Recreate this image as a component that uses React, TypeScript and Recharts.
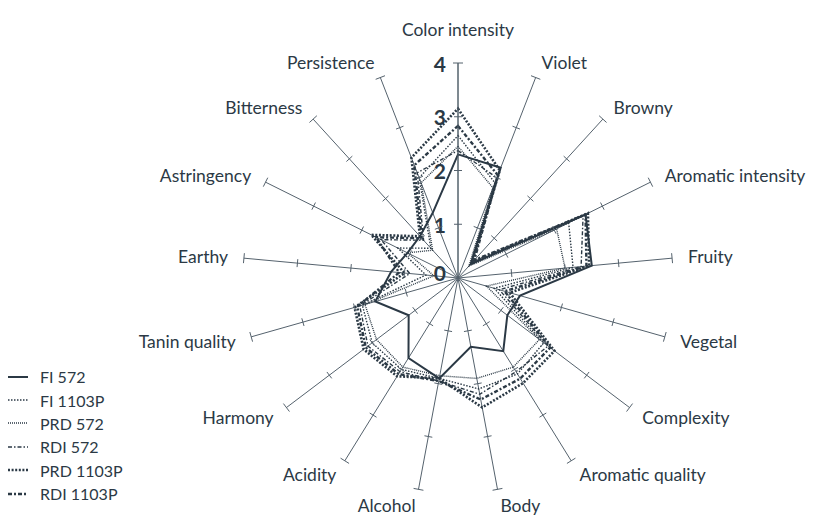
import React from 'react';
import { RadarChart, Radar, PolarAngleAxis, PolarRadiusAxis, PolarGrid, Legend } from 'recharts';

const attributes = [
  'Color intensity', 'Violet', 'Browny', 'Aromatic intensity', 'Fruity', 'Vegetal',
  'Complexity', 'Aromatic quality', 'Body', 'Alcohol', 'Acidity', 'Harmony',
  'Tanin quality', 'Earthy', 'Astringency', 'Bitterness', 'Persistence',
];

// scores per attribute, same order as above
const fi572 = [2.3, 2.2, 0.35, 2.65, 2.5, 1.2, 1.15, 1.6, 1.3, 1.9, 1.75, 1.15, 1.6, 1.25, 1.05, 1.05, 1.3];
const fi1103p = [2.65, 1.9, 0.4, 2.3, 2.15, 0.7, 2.0, 2.1, 2.1, 1.9, 2.0, 2.0, 1.85, 0.6, 1.25, 0.75, 2.0];
const prd572 = [2.45, 1.8, 0.3, 2.05, 2.0, 0.55, 1.9, 1.95, 1.9, 1.85, 1.95, 1.9, 1.8, 0.45, 1.05, 0.7, 1.9];
const rdi572 = [2.37, 2.0, 0.35, 2.6, 2.3, 0.8, 2.1, 2.05, 2.2, 1.95, 2.05, 2.1, 1.9, 0.9, 1.6, 0.95, 2.1];
const prd1103p = [3.15, 2.15, 0.4, 2.7, 2.45, 1.0, 2.25, 2.3, 2.45, 1.9, 2.15, 2.2, 2.0, 1.0, 1.8, 1.05, 2.4];
const rdi1103p = [2.83, 2.05, 0.45, 2.65, 2.4, 0.9, 2.15, 2.2, 2.3, 1.95, 2.1, 2.15, 1.95, 1.1, 1.7, 1.0, 2.25];

const scaleTicks = [0, 1, 2, 3, 4];
const MAX = 4;

const INK = '#2b3945';
const SPOKE = '#55626d';
const FONT = 'Lato, "Open Sans", sans-serif';

const CX = 450;
const CY = 270;
const R = 215;
const LABEL_GAP = 16;

const series = [
  { key: 'fi572', name: 'FI 572', values: fi572, width: 2, dash: undefined },
  { key: 'fi1103p', name: 'FI 1103P', values: fi1103p, width: 1.4, dash: '1.5 1.5' },
  { key: 'prd572', name: 'PRD 572', values: prd572, width: 1.4, dash: '1 1' },
  { key: 'rdi572', name: 'RDI 572', values: rdi572, width: 1.4, dash: '4 2 1.5 2' },
  { key: 'prd1103p', name: 'PRD 1103P', values: prd1103p, width: 2.6, dash: '2 1.6' },
  { key: 'rdi1103p', name: 'RDI 1103P', values: rdi1103p, width: 2.4, dash: '4 2 2 2' },
];

const data = attributes.map((attribute, i) => {
  const row: Record<string, string | number> = { attribute };
  series.forEach((s) => {
    row[s.key] = s.values[i];
  });
  return row;
});

// main (vertical) scale axis: tick marks + bold numbers
function ScaleTick(props: any) {
  const { x, y, payload } = props;
  const v = payload.value;
  const half = v === MAX ? 5 : 4;
  return (
    <g>
      {v !== 0 && <line x1={x - half} y1={y} x2={x + half} y2={y} stroke={SPOKE} strokeWidth={1} />}
      <text
        x={x - 12}
        y={v === 0 ? y - 6 : y}
        textAnchor="end"
        dominantBaseline="central"
        fontSize={21}
        fontWeight="bold"
        fontFamily={FONT}
        fill={INK}
      >
        {v}
      </text>
    </g>
  );
}

// attribute label, plus the small cross marks on its spoke
function AttributeTick(props: any) {
  const { x, y, payload, index } = props;
  const rad = (payload.coordinate * Math.PI) / 180;
  const cos = Math.cos(rad);
  const sin = Math.sin(rad);
  const cx = typeof props.cx === 'number' ? props.cx : CX;
  const cy = typeof props.cy === 'number' ? props.cy : CY;
  const radius = typeof props.radius === 'number' ? props.radius : R;
  const anchor = Math.abs(cos) < 0.05 ? 'middle' : cos > 0 ? 'start' : 'end';
  return (
    <g>
      {index !== 0 &&
        scaleTicks
          .filter((v) => v > 0)
          .map((v) => {
            const r = (v / MAX) * radius;
            const px = cx + r * cos;
            const py = cy - r * sin;
            const h = v === MAX ? 5 : 4;
            return (
              <line
                key={v}
                x1={px - h * sin}
                y1={py - h * cos}
                x2={px + h * sin}
                y2={py + h * cos}
                stroke={SPOKE}
                strokeWidth={1}
              />
            );
          })}
      <text
        x={x}
        y={index === 0 ? y - 18 : y}
        textAnchor={anchor}
        dominantBaseline="central"
        fontSize={17.5}
        fontFamily={FONT}
        fill={INK}
      >
        {payload.value}
      </text>
    </g>
  );
}

function SeriesLegend() {
  return (
    <div style={{ fontFamily: FONT, fontSize: 16, color: INK }}>
      {series.map((s) => (
        <div key={s.key} style={{ display: 'flex', alignItems: 'center', height: 23.4 }}>
          <svg width={24} height={10}>
            <line x1={0} x2={20} y1={5} y2={5} stroke={INK} strokeWidth={s.width} strokeDasharray={s.dash} />
          </svg>
          <span style={{ marginLeft: 8 }}>{s.name}</span>
        </div>
      ))}
    </div>
  );
}

export default function App() {
  return (
    <RadarChart
      width={810}
      height={508}
      data={data}
      cx={CX}
      cy={CY}
      outerRadius={R}
      startAngle={90}
      endAngle={-270}
      margin={{ top: 0, right: 0, bottom: 0, left: 0 }}
      style={{ overflow: 'visible' }}
    >
      <PolarGrid gridType="polygon" polarRadius={[]} radialLines stroke={SPOKE} strokeWidth={1} />
      <PolarRadiusAxis
        angle={90}
        type="number"
        domain={[0, MAX]}
        ticks={scaleTicks as any}
        tickCount={5}
        axisLine={{ stroke: SPOKE, strokeWidth: 1 }}
        tick={ScaleTick}
      />
      <PolarAngleAxis
        dataKey="attribute"
        tick={AttributeTick}
        tickSize={LABEL_GAP}
        axisLine={false}
        tickLine={false}
      />
      {series.map((s) => (
        <Radar
          key={s.key}
          name={s.name}
          dataKey={s.key}
          stroke={INK}
          strokeWidth={s.width}
          strokeDasharray={s.dash}
          fill="none"
          fillOpacity={0}
          dot={false}
          isAnimationActive={false}
        />
      ))}
      <Legend
        content={SeriesLegend}
        layout="horizontal"
        verticalAlign="middle"
        align="left"
        wrapperStyle={{ left: 0, top: 357, width: 140 }}
      />
    </RadarChart>
  );
}
